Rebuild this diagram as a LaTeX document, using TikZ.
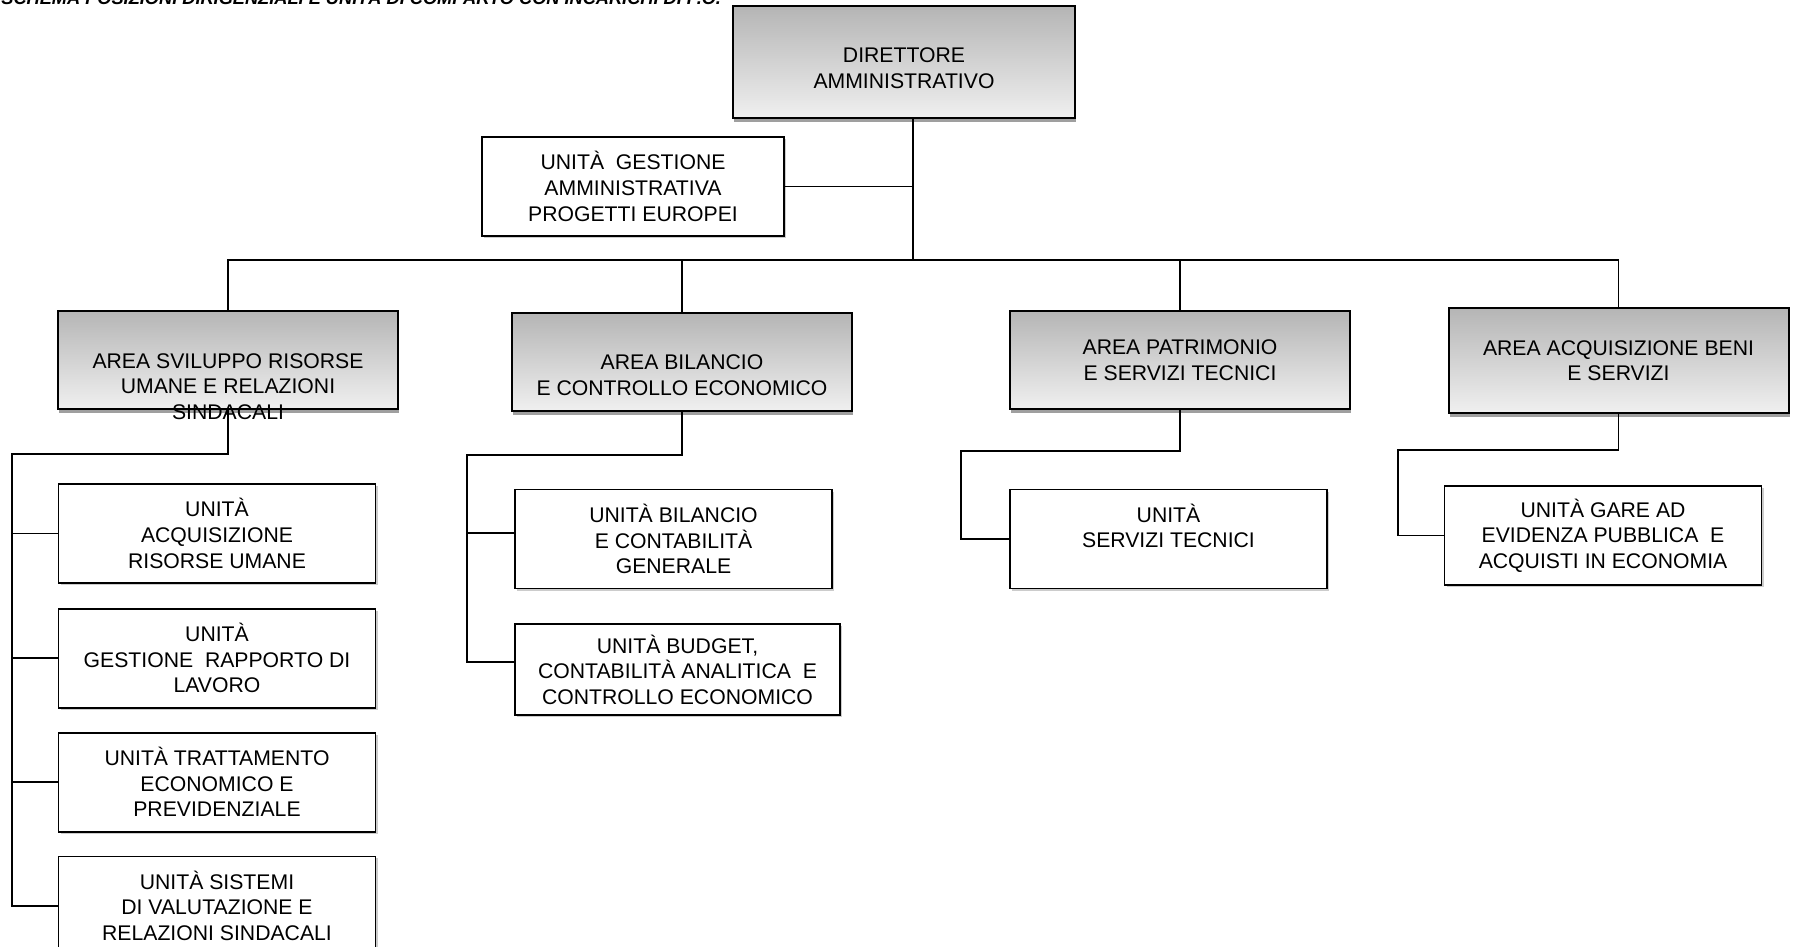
\documentclass[tikz,border=0pt]{standalone}
\usepackage{fontspec}
\setsansfont{Liberation Sans}
\usetikzlibrary{positioning, shadows}

\begin{document}
\begin{tikzpicture}[
    x=0.5pt, y=-0.5pt, % one unit = one pixel of the chart, y going down
    font=\sffamily\fontsize{10.6pt}{12.8pt}\selectfont, % Arial-like labels
    % --- STYLES ---
    head_box/.style={
        draw=black, line width=1pt, align=center,
        top color=gray!58, bottom color=gray!12,  % grey gradient of the heads
        drop shadow={shadow xshift=0.5pt, shadow yshift=-2pt, fill=gray!75, opacity=1}
    },
    area_box/.style={head_box, minimum width=170pt, minimum height=49pt},
    unit_box/.style={
        draw=black, line width=0.9pt, fill=white, align=center,
        minimum width=158.5pt, minimum height=49.5pt,
        drop shadow={shadow xshift=1pt, shadow yshift=-1pt, fill=gray!40, opacity=1}
    },
    % text that does not sit in the middle of its box
    moved_text/.style 2 args={label={[align=center, yshift=#1]center:{#2}}},
    link/.style={line width=0.9pt} % org chart connector
]
\useasboundingbox (0,0) rectangle (1798,947);
\clip (0,0) rectangle (1798,947);

% --- Title (cut by the top edge) ---
\node[anchor=base west, inner sep=0pt,
      font=\sffamily\bfseries\itshape\fontsize{9.1pt}{10pt}\selectfont] (title) at (1,5)
    {SCHEMA POSIZIONI DIRIGENZIALI E UNITÀ DI COMPARTO CON INCARICHI DI P.O.};

% --- Top of the chart ---
\node[head_box, minimum width=171pt, minimum height=56pt,
      moved_text={-3pt}{DIRETTORE\\AMMINISTRATIVO}] (DA) at (904,62.5) {};
\node[unit_box, minimum width=151pt] (UG) at (633,186.5)
    {UNITÀ\ \ GESTIONE\\AMMINISTRATIVA\\PROGETTI EUROPEI};

% --- AREAS ---
% Area 1: its text runs over the bottom border
\node[area_box, moved_text={-13.5pt}{AREA SVILUPPO RISORSE\\UMANE E RELAZIONI\\SINDACALI}] (A1) at (228,359.5) {};
\node[area_box, moved_text={-6.5pt}{AREA BILANCIO\\E CONTROLLO ECONOMICO}] (A2) at (682,362) {};
\node[area_box] (A3) at (1180,360) {AREA PATRIMONIO\\E SERVIZI TECNICI};
\node[area_box, minimum height=52.5pt] (A4) at (1618.5,360.5) {AREA ACQUISIZIONE BENI\\E SERVIZI};

% --- UNITS under Area 1 ---
\node[unit_box] (C1) at (217,533.5) {UNITÀ\\ACQUISIZIONE\\RISORSE UMANE};
\node[unit_box, below=12pt of C1] (C2) {UNITÀ\\GESTIONE\ \ RAPPORTO DI\\LAVORO};
\node[unit_box, below=11.5pt of C2] (C3) {UNITÀ TRATTAMENTO\\ECONOMICO E\\PREVIDENZIALE};
\node[unit_box, below=11.5pt of C3] (C4) {UNITÀ SISTEMI\\DI VALUTAZIONE E\\RELAZIONI SINDACALI};

% --- UNITS under Area 2 ---
\node[unit_box] (B1) at (673.5,539) {UNITÀ BILANCIO\\E CONTABILITÀ\\GENERALE};
\node[unit_box, minimum width=162.5pt, minimum height=45.5pt,
      below right=17pt and 0pt of B1.south west] (B2)
    {UNITÀ BUDGET,\\CONTABILITÀ ANALITICA\ \ E\\CONTROLLO ECONOMICO};

% --- UNITS under Areas 3 and 4 ---
\node[unit_box, moved_text={6.5pt}{UNITÀ\\SERVIZI TECNICI}] (P1) at (1168.5,539) {};
\node[unit_box] (G1) at (1603,535.5) {UNITÀ GARE AD\\EVIDENZA PUBBLICA\ \ E\\ACQUISTI IN ECONOMIA};

% --- CONNECTORS ---
\coordinate (trunk) at (913,260);
\draw[link] (DA.south -| trunk) -- (trunk);
\draw[link] (UG.east) -- (UG.east -| trunk);
\draw[link] (A1.north) |- (trunk) -| (A4.north);
\draw[link] (A2.north) -- (A2.north |- trunk);
\draw[link] (A3.north) -- (A3.north |- trunk);

% Area 1 spine
\coordinate (A1_spine) at (12,454);
\draw[link] (A1.south) |- (A1_spine) |- (C4.west);
\foreach \u in {C1,C2,C3}
    \draw[link] (A1_spine |- \u.west) -- (\u.west);

% Area 2 spine (stubs a little above the middle)
\coordinate (A2_spine) at (467,455);
\coordinate (B1_stub) at ([yshift=3pt]B1.west);
\coordinate (B2_stub) at ([yshift=4pt]B2.west);
\draw[link] (A2.south) |- (A2_spine) |- (B2_stub);
\draw[link] (A2_spine |- B1_stub) -- (B1_stub);

% Areas 3 and 4
\coordinate (A3_spine) at (961,451);
\draw[link] (A3.south) |- (A3_spine) |- (P1.west);
\coordinate (A4_spine) at (1398,450);
\draw[link] (A4.south) |- (A4_spine) |- (G1.west);

\end{tikzpicture}
\end{document}
